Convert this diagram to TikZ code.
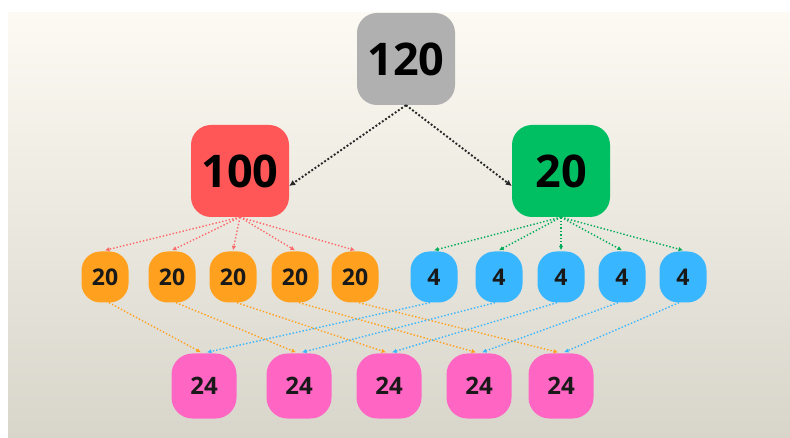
\documentclass[tikz,border=0pt]{standalone}
\usepackage{fontspec}
\setmainfont{Open Sans}
\usetikzlibrary{arrows.meta}
\definecolor{bgtop}{HTML}{FCFAF2}
\definecolor{bgbot}{HTML}{D8D5CB}
\definecolor{cgray}{HTML}{B0B0B0}
\definecolor{cred}{HTML}{FF5757}
\definecolor{cgreen}{HTML}{00BF63}
\definecolor{corange}{HTML}{FFA11E}
\definecolor{cblue}{HTML}{38B6FF}
\definecolor{cpink}{HTML}{FF66C4}
\tikzset{
  bigbox/.style={rounded corners=20pt, minimum width=98pt, minimum height=92pt, inner sep=0pt, font=\fontsize{45}{50}\selectfont\bfseries, text=black},
  smallbox/.style={rounded corners=19pt, minimum width=47pt, minimum height=51pt, inner sep=0pt, font=\fontsize{23}{26}\selectfont\bfseries, text=black!90},
  pinkbox/.style={rounded corners=21pt, fill=cpink, minimum width=65pt, minimum height=65pt, inner sep=0pt, font=\fontsize{24}{28}\selectfont\bfseries, text=black!90},
  arr/.style={dotted, line width=1.4pt, -{Latex[length=4.5pt,width=4.5pt]}},
  blackarr/.style={dotted, line width=1.9pt, draw=black!85, -{Latex[length=6pt,width=6pt]}},
}
\begin{document}
\begin{tikzpicture}[x=1pt,y=-1pt]
\useasboundingbox (0,0) rectangle (790,438);
\shade[top color=bgtop, bottom color=bgbot] (8,13) rectangle (790,438);
% top nodes
\node[bigbox, fill=cgray] (top) at (406,59) {120};
\node[bigbox, fill=cred] (n100) at (240,171) {100};
\node[bigbox, fill=cgreen] (n20) at (561,171) {20};
% orange row
\foreach \i/\x in {1/105,2/172,3/233,4/295,5/355}
  \node[smallbox, fill=corange] (o\i) at (\x,277) {20};
% blue row
\foreach \i/\x in {1/434,2/499,3/561,4/622,5/683}
  \node[smallbox, fill=cblue] (b\i) at (\x,277) {4};
% pink row
\foreach \i/\x/\y in {1/204/386,2/299/386,3/389/386,4/479/386,5/561/386}
  \node[pinkbox] (p\i) at (\x,\y) {24};
% black arrows
\draw[blackarr] (top.south) -- ([yshift=-15pt]n100.east);
\draw[blackarr] (top.south) -- ([yshift=-15pt]n20.west);
% red arrows
\foreach \i in {1,...,5}
  \draw[arr, draw=cred!90] (n100.south) -- ([yshift=1pt]o\i.north);
% green arrows
\foreach \i in {1,...,5}
  \draw[arr, draw=cgreen!90!black] (n20.south) -- ([yshift=1pt]b\i.north);
% orange to pink
\foreach \i in {1,...,5}
  \draw[arr, draw=corange] ([xshift=4pt]o\i.south) -- ([xshift=-3pt,yshift=1pt]p\i.north);
% blue to pink
\foreach \i in {1,...,5}
  \draw[arr, draw=cblue] ([xshift=-4pt]b\i.south) -- ([xshift=3pt,yshift=1pt]p\i.north);
\end{tikzpicture}
\end{document}
